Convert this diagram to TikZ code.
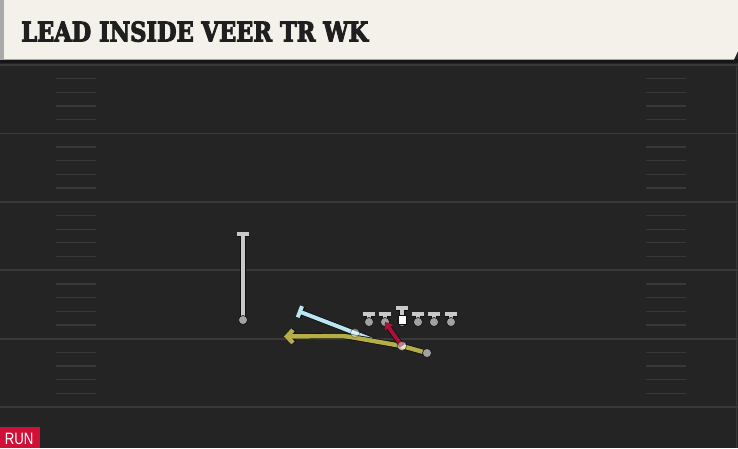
\documentclass[tikz,border=0pt]{standalone}
\usepackage{fontspec}
\usepackage{graphicx}
\usetikzlibrary{arrows.meta}
\newfontfamily\titlefont{DejaVu Serif}[BoldFeatures={FakeBold=4}]
\newfontfamily\runfont{Liberation Sans}
\definecolor{cream}{HTML}{F4F1EA}
\definecolor{fieldbg}{HTML}{242424}
\definecolor{yardline}{HTML}{393939}
\definecolor{hashc}{HTML}{383838}
\definecolor{shadowc}{HTML}{161616}
\definecolor{leftstrip}{HTML}{A9A9A9}
\definecolor{routegray}{HTML}{C9C9C9}
\definecolor{routeblue}{HTML}{B8E6F2}
\definecolor{routeyellow}{HTML}{B4AD48}
\definecolor{routered}{HTML}{B3133E}
\definecolor{outl}{HTML}{101010}
\definecolor{dotgray}{HTML}{A2A2A2}
\definecolor{runred}{HTML}{D01137}
\pgfdeclarelayer{bg}
\pgfdeclarelayer{lines}
\pgfdeclarelayer{top}
\pgfsetlayers{bg,lines,main,top}
\tikzset{
  graypath/.style={draw=routegray, line width=3.8pt, preaction={draw=outl, line width=5.4pt}},
  bluepath/.style={draw=routeblue, line width=4pt, preaction={draw=outl, line width=5.6pt}},
  yellowpath/.style={draw=routeyellow, line width=4.4pt, preaction={draw=outl, line width=6pt}},
  redpath/.style={draw=routered, line width=4pt, preaction={draw=outl, line width=5.6pt}},
  player/.style={circle, fill=dotgray, draw=outl, line width=0.6pt, minimum size=9pt, inner sep=0pt},
  waypt/.style={circle, fill=white, fill opacity=0.45, draw=outl, draw opacity=0.5, line width=0.5pt, minimum size=9pt, inner sep=0pt},
  ballbox/.style={rectangle, fill=white, draw=outl, line width=0.5pt, minimum width=7.5pt, minimum height=9.5pt, inner sep=0pt},
  tbar/.style={-{Bar[width=12pt]}},
}
\begin{document}
\begin{tikzpicture}[x=1pt, y=-1pt]
\useasboundingbox (0,0) rectangle (738,448);
\begin{pgfonlayer}{bg}
% field
\fill[fieldbg] (0,0) rectangle (738,448);
\foreach \yy in {65,133.4,201.8,270.2,338.6,407} {
  \draw[yardline, line width=1.8pt] (0,\yy) -- (738,\yy);
}
\foreach \yy in {65,133.4,201.8,270.2,338.6} {
  \foreach \k in {1,2,3,4} {
    \draw[hashc, line width=1.3pt] (56,\yy+13.68*\k) -- (96,\yy+13.68*\k);
    \draw[hashc, line width=1.3pt] (646,\yy+13.68*\k) -- (686,\yy+13.68*\k);
  }
}
\draw[yardline, line width=1pt] (736.5,63) -- (736.5,448);
% header
\fill[shadowc] (0,59) rectangle (738,63);
\fill[cream] (0,0) -- (738,0) -- (738,51) -- (734,59.5) -- (0,59.5) -- cycle;
\fill[leftstrip] (0,0) rectangle (4,59.5);
\end{pgfonlayer}
\node[anchor=south west, inner sep=0pt, text=black!88] (title) at (21,42)
  {\resizebox{347pt}{20pt}{\titlefont\bfseries LEAD INSIDE VEER TR WK}};
% RUN tag
\node[fill=runred, anchor=south west, minimum width=40pt, minimum height=20.7pt, inner sep=0pt] (runtag) at (0,448) {};
\node[anchor=south west, inner sep=0pt, text=white] (runtext) at (4.7,444.7)
  {\resizebox{28.6pt}{11.3pt}{\runfont RUN}};
% players
\node[player] (wr) at (243,320) {};
\node[player] (lt) at (369,322) {};
\node[player] (lg) at (385,322) {};
\node[player] (ce) at (402,322) {};
\node[player] (rg) at (418,322) {};
\node[player] (rt) at (434,322) {};
\node[player] (te) at (451,322) {};
\node[ballbox] (ball) at (402,319.5) {};
\node[player] (rb) at (427,353) {};
\coordinate (qb) at (373,340);
\node[waypt] (bw) at (355,333) {};
\node[waypt] (yw) at (402,346) {};
% route end points
\coordinate (wrEnd) at (243,232);
\coordinate (ltEnd) at (369,312);
\coordinate (lgEnd) at (385,312);
\coordinate (ceEnd) at (402,306);
\coordinate (rgEnd) at (418,312);
\coordinate (rtEnd) at (434,312);
\coordinate (teEnd) at (451,312);
\coordinate (blueEnd) at (298,311);
\coordinate (yBend) at (345,336);
\coordinate (yEnd) at (284,336.5);
\begin{pgfonlayer}{lines}
  \draw[graypath, tbar] (wr.center) -- (wrEnd);
  \foreach \p in {lt,lg,ce,rg,rt,te} {
    \draw[graypath, tbar] (\p.center) -- (\p End);
  }
  \draw[bluepath, tbar] (qb) -- (bw.center) -- (blueEnd);
  \draw[yellowpath, -{Straight Barb[length=6pt, width=13pt]}, rounded corners=6pt]
    (rb.center) -- (yw.center) -- (yBend) -- (yEnd);
\end{pgfonlayer}
\begin{pgfonlayer}{top}
  \draw[redpath, -{Triangle[length=7pt, width=10pt]}, opacity=0.92] (yw.center) -- (lg.center);
  \node[waypt] at (yw) {};
\end{pgfonlayer}
\end{tikzpicture}
\end{document}
